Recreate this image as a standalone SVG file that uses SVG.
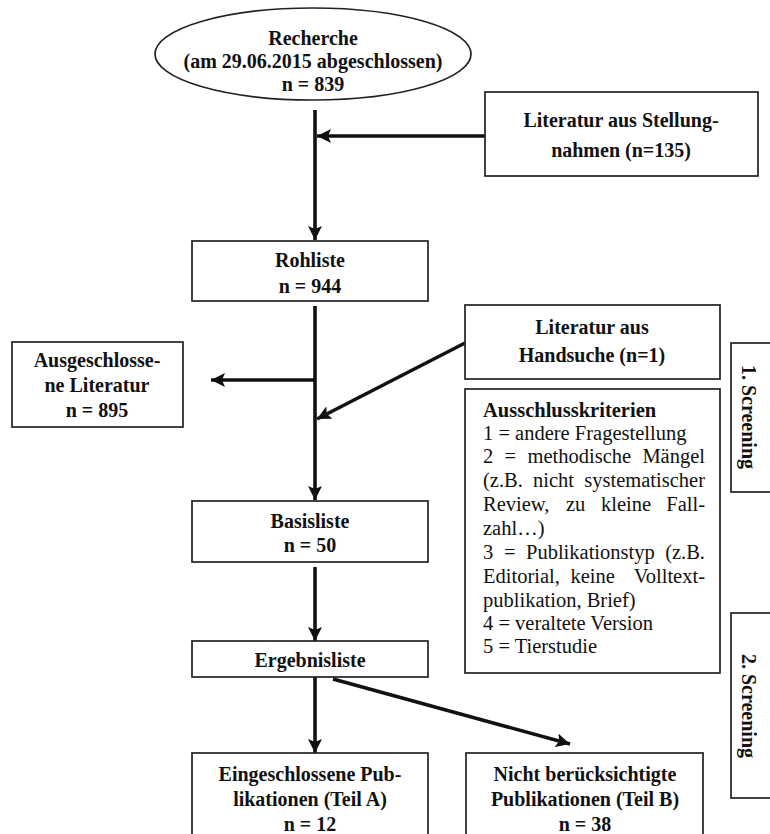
<svg xmlns="http://www.w3.org/2000/svg" width="770" height="834" viewBox="0 0 770 834">
<defs>
<style>
.box{fill:#fff;stroke:#222;stroke-width:1.7}
.t{font-family:"Liberation Serif","Times New Roman",serif;font-size:20px;font-weight:bold;fill:#111;text-anchor:middle}
.r{font-family:"Liberation Serif","Times New Roman",serif;font-size:20.5px;fill:#111}
.rb{font-family:"Liberation Serif","Times New Roman",serif;font-size:20.5px;font-weight:bold;fill:#111}
.c{fill:none;stroke:#111;stroke-width:3.6}
</style>
<marker id="ah" markerUnits="userSpaceOnUse" markerWidth="16" markerHeight="14" refX="14" refY="7" orient="auto">
<path d="M0,0 L14,7 L0,14 L3,7 Z" fill="#111"/>
</marker>
</defs>
<rect width="770" height="834" fill="#fff"/>

<g id="connectors">
<line class="c" x1="315" y1="110" x2="315" y2="240" marker-end="url(#ah)"/>
<line class="c" x1="485" y1="136" x2="317" y2="136" marker-end="url(#ah)"/>
<line class="c" x1="315" y1="306" x2="315" y2="500" marker-end="url(#ah)"/>
<line class="c" x1="315" y1="380" x2="211" y2="380" marker-end="url(#ah)"/>
<line class="c" x1="465" y1="343" x2="317" y2="419" marker-end="url(#ah)"/>
<line class="c" x1="315" y1="567" x2="315" y2="641" marker-end="url(#ah)"/>
<line class="c" x1="315" y1="677" x2="315" y2="753" marker-end="url(#ah)"/>
<line class="c" x1="333" y1="679" x2="570" y2="744" marker-end="url(#ah)"/>
</g>

<g id="recherche">
<ellipse class="box" cx="313" cy="54" rx="158" ry="46"/>
<text class="t" x="313" y="45">Recherche</text>
<text class="t" x="313" y="68">(am 29.06.2015 abgeschlossen)</text>
<text class="t" x="313" y="91">n = 839</text>
</g>

<g id="stellungnahmen">
<rect class="box" x="485" y="92" width="273" height="84"/>
<text class="t" x="621" y="127">Literatur aus Stellung-</text>
<text class="t" x="621" y="157">nahmen (n=135)</text>
</g>

<g id="rohliste">
<rect class="box" x="192" y="241" width="236" height="60"/>
<text class="t" x="310" y="267">Rohliste</text>
<text class="t" x="310" y="293">n = 944</text>
</g>

<g id="ausgeschlossen">
<rect class="box" x="12" y="342" width="171" height="85"/>
<text class="t" x="97" y="367">Ausgeschlosse-</text>
<text class="t" x="97" y="392">ne Literatur</text>
<text class="t" x="97" y="417">n = 895</text>
</g>

<g id="handsuche">
<rect class="box" x="465" y="305" width="255" height="74"/>
<text class="t" x="592" y="334">Literatur aus</text>
<text class="t" x="592" y="362">Handsuche (n=1)</text>
</g>

<g id="ausschlusskriterien">
<rect class="box" x="465" y="389" width="255" height="284"/>
<text class="rb" x="483" y="417">Ausschlusskriterien</text>
<text class="r" x="483" y="440">1 = andere Fragestellung</text>
<text class="r" y="463"><tspan x="483">2</tspan><tspan x="504.6">=</tspan><tspan x="527.5">methodische</tspan><tspan x="705" text-anchor="end">Mängel</tspan></text>
<text class="r" y="487"><tspan x="483">(z.B.</tspan><tspan x="533">nicht</tspan><tspan x="705" text-anchor="end">systematischer</tspan></text>
<text class="r" y="511"><tspan x="483">Review,</tspan><tspan x="566">zu</tspan><tspan x="601">kleine</tspan><tspan x="705" text-anchor="end">Fall-</tspan></text>
<text class="r" x="483" y="535">zahl…)</text>
<text class="r" y="559"><tspan x="483">3</tspan><tspan x="504">=</tspan><tspan x="526">Publikationstyp</tspan><tspan x="705" text-anchor="end">(z.B.</tspan></text>
<text class="r" y="583"><tspan x="483">Editorial,</tspan><tspan x="570.5">keine</tspan><tspan x="705" text-anchor="end">Volltext-</tspan></text>
<text class="r" x="483" y="607">publikation, Brief)</text>
<text class="r" x="483" y="630">4 = veraltete Version</text>
<text class="r" x="483" y="653">5 = Tierstudie</text>
</g>

<g id="screening1">
<rect class="box" x="731" y="343" width="50" height="149"/>
<text class="t" transform="translate(742,417) rotate(90)">1. Screening</text>
</g>

<g id="basisliste">
<rect class="box" x="192" y="501" width="236" height="61"/>
<text class="t" x="310" y="528">Basisliste</text>
<text class="t" x="310" y="552">n = 50</text>
</g>

<g id="ergebnisliste">
<rect class="box" x="192" y="641" width="236" height="36"/>
<text class="t" x="310" y="667">Ergebnisliste</text>
</g>

<g id="screening2">
<rect class="box" x="731" y="613" width="50" height="185"/>
<text class="t" transform="translate(742,706) rotate(90)">2. Screening</text>
</g>

<g id="eingeschlossen">
<rect class="box" x="192" y="753" width="236" height="100"/>
<text class="t" x="310" y="781">Eingeschlossene Pub-</text>
<text class="t" x="310" y="806">likationen (Teil A)</text>
<text class="t" x="310" y="831">n = 12</text>
</g>

<g id="nicht">
<rect class="box" x="466" y="753" width="237" height="100"/>
<text class="t" x="585" y="781">Nicht berücksichtigte</text>
<text class="t" x="585" y="806">Publikationen (Teil B)</text>
<text class="t" x="585" y="831">n = 38</text>
</g>
</svg>
